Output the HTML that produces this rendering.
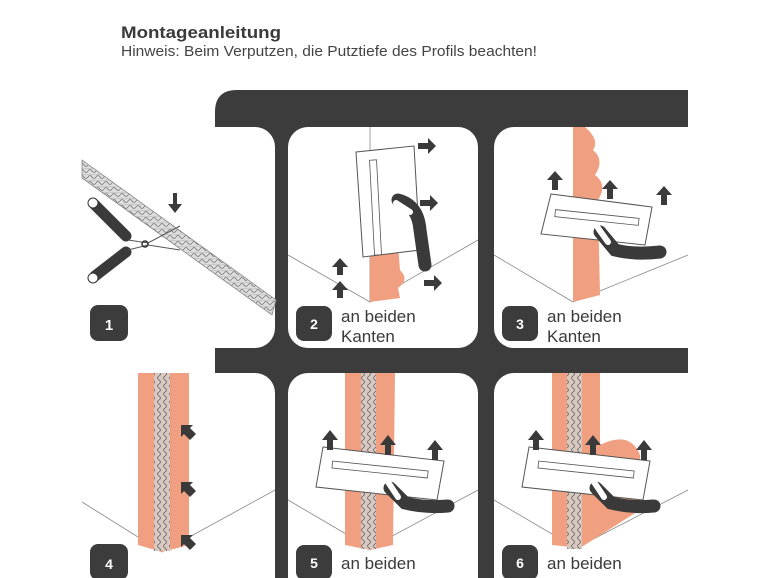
<!DOCTYPE html>
<html><head><meta charset="utf-8"><style>
html,body{margin:0;padding:0;background:#fff;width:770px;height:578px;overflow:hidden;}
svg{display:block;}
</style></head><body>
<svg width="770" height="578" viewBox="0 0 770 578" xmlns="http://www.w3.org/2000/svg" font-family="Liberation Sans, sans-serif">
<defs>
<pattern id="mesh" width="8" height="6" patternUnits="userSpaceOnUse">
<rect width="8" height="6" fill="#ddd"/>
<path d="M0 3 Q2 0 4 3 Q6 6 8 3" stroke="#777" fill="none" stroke-width="0.8"/>
<path d="M0 0 L8 0" stroke="#999" stroke-width="0.6"/>
</pattern>
<pattern id="meshv" width="6" height="8" patternUnits="userSpaceOnUse">
<rect width="6" height="8" fill="#d8c8c0"/>
<path d="M3 0 Q0 2 3 4 Q6 6 3 8" stroke="#666" fill="none" stroke-width="0.8"/>
</pattern>
</defs>
<text x="121" y="38" font-size="16.5" font-weight="bold" fill="#3a3a3a" textLength="160" lengthAdjust="spacingAndGlyphs">Montageanleitung</text>
<text x="121" y="56" font-size="14.5" fill="#444" textLength="416" lengthAdjust="spacingAndGlyphs">Hinweis: Beim Verputzen, die Putztiefe des Profils beachten!</text>

<!-- dark frame -->
<path d="M215 578 L215 112 Q215 90 237 90 L688 90 L688 578 Z" fill="#3c3c3c"/>
<rect x="150" y="127" width="125" height="221" rx="20" fill="#fff"/>
<rect x="288" y="127" width="190" height="221" rx="20" fill="#fff"/>
<rect x="494" y="127" width="230" height="221" rx="20" fill="#fff"/>
<rect x="150" y="373" width="125" height="240" rx="20" fill="#fff"/>
<rect x="288" y="373" width="190" height="240" rx="20" fill="#fff"/>
<rect x="494" y="373" width="230" height="240" rx="20" fill="#fff"/>
<rect x="150" y="127" width="65" height="460" fill="#fff"/>
<rect x="689" y="80" width="90" height="500" fill="#fff"/>

<!-- Panel 1 -->
<polygon points="82,160 82,178 272,315 276,300" fill="url(#mesh)" stroke="#888" stroke-width="0.8"/>
<path d="M95 205 L126 236 M95 276 L126 252" stroke="#3a3a3a" stroke-width="11" stroke-linecap="round"/>
<circle cx="93" cy="203" r="5" fill="#fff" stroke="#333" stroke-width="1"/>
<circle cx="93" cy="278" r="5" fill="#fff" stroke="#333" stroke-width="1"/>
<path d="M128 240 L148 243 L180 226 M128 250 L148 245 L180 250" stroke="#555" stroke-width="1" fill="none"/>
<circle cx="145" cy="244" r="3" fill="none" stroke="#333" stroke-width="1.5"/>
<path d="M175 193 L175 205" stroke="#3a3a3a" stroke-width="4"/>
<polygon points="168,204 182,204 175,213" fill="#3a3a3a"/>
<rect x="90" y="305" width="38" height="36" rx="8" fill="#3c3c3c"/>
<text x="109" y="330" font-size="15" font-weight="bold" fill="#fff" text-anchor="middle">1</text>

<!-- Panel 2 -->
<path d="M288 255 L370 302 L478 240 M370 127 L370 302" stroke="#888" stroke-width="0.8" fill="none"/>
<path d="M370 210 L395 205 L400 270 Q410 280 398 288 L400 298 L370 302 Z" fill="#f0a080"/>
<polygon points="356,152 414,146 420,250 363,257" fill="#fff" stroke="#555" stroke-width="1"/>
<rect x="372" y="160" width="7" height="95" fill="#fff" stroke="#555" stroke-width="0.8" transform="rotate(-3 375 207)"/>
<path d="M398 200 Q418 205 420 230 L425 265" stroke="#3a3a3a" stroke-width="13" stroke-linecap="round" fill="none"/>
<path d="M396 203 L410 212" stroke="#fff" stroke-width="6" stroke-linecap="round"/>
<g fill="#3a3a3a">
<path d="M418 143 L428 143 L428 138 L436 146 L428 154 L428 149 L418 149Z"/>
<path d="M420 200 L430 200 L430 195 L438 203 L430 211 L430 206 L420 206Z"/>
<path d="M424 280 L434 280 L434 275 L442 283 L434 291 L434 286 L424 286Z"/>
<path d="M337 275 L337 267 L332 267 L340 258 L348 267 L343 267 L343 275Z"/>
<path d="M337 298 L337 290 L332 290 L340 281 L348 290 L343 290 L343 298Z"/>
</g>
<rect x="296" y="306" width="36" height="35" rx="8" fill="#3c3c3c"/>
<text x="314" y="329" font-size="14" font-weight="bold" fill="#fff" text-anchor="middle">2</text>
<text x="341" y="322" font-size="17" fill="#3a3a3a">an beiden</text>
<text x="341" y="342" font-size="17" fill="#3a3a3a">Kanten</text>

<!-- Panel 3 -->
<path d="M494 255 L573 302 L688 255" stroke="#888" stroke-width="0.8" fill="none"/>
<path d="M573 127 L585 127 Q600 140 593 150 Q605 160 595 175 Q608 185 598 200 L600 295 L573 302 Z" fill="#f0a080"/>
<polygon points="551,194 652,207 645,245 541,234" fill="#fff" stroke="#555" stroke-width="1"/>
<rect x="555" y="214" width="84" height="7" fill="#fff" stroke="#555" stroke-width="0.8" transform="rotate(6 597 217)"/>
<path d="M600 232 L615 250 Q635 255 660 252" stroke="#3a3a3a" stroke-width="13" stroke-linecap="round" fill="none"/>
<path d="M598 228 L608 242" stroke="#fff" stroke-width="6" stroke-linecap="round"/>
<g fill="#3a3a3a">
<path d="M552 190 L552 180 L547 180 L555 171 L563 180 L558 180 L558 190Z"/>
<path d="M607 199 L607 189 L602 189 L610 180 L618 189 L613 189 L613 199Z"/>
<path d="M661 205 L661 195 L656 195 L664 186 L672 195 L667 195 L667 205Z"/>
</g>
<rect x="502" y="306" width="36" height="35" rx="8" fill="#3c3c3c"/>
<text x="520" y="329" font-size="14" font-weight="bold" fill="#fff" text-anchor="middle">3</text>
<text x="547" y="322" font-size="17" fill="#3a3a3a">an beiden</text>
<text x="547" y="342" font-size="17" fill="#3a3a3a">Kanten</text>

<!-- Panel 4 -->
<path d="M82 502 L162 552 L275 490" stroke="#888" stroke-width="0.8" fill="none"/>
<path d="M138 373 L189 373 L189 545 L162 552 L138 545 Z" fill="#f0a080"/>
<rect x="154" y="373" width="16" height="178" fill="url(#meshv)"/>
<g fill="#3a3a3a">
<path d="M190 440 L184 434 L181 437 L181 425 L193 425 L190 428 L196 434Z"/>
<path d="M190 497 L184 491 L181 494 L181 482 L193 482 L190 485 L196 491Z"/>
<path d="M190 550 L184 544 L181 547 L181 535 L193 535 L190 538 L196 544Z"/>
</g>
<rect x="90" y="544" width="38" height="36" rx="8" fill="#3c3c3c"/>
<text x="109" y="569" font-size="14" font-weight="bold" fill="#fff" text-anchor="middle">4</text>

<!-- Panel 5 -->
<path d="M288 500 L370 548 L478 490" stroke="#888" stroke-width="0.8" fill="none"/>
<path d="M345 373 L395 373 L393 545 L370 550 L345 545 Z" fill="#f0a080"/>
<rect x="361" y="373" width="15" height="176" fill="url(#meshv)"/>
<polygon points="323,447 444,461 437,500 316,487" fill="#fff" stroke="#555" stroke-width="1"/>
<rect x="332" y="466" width="96" height="7" fill="#fff" stroke="#555" stroke-width="0.8" transform="rotate(6 380 470)"/>
<path d="M390 488 L405 503 Q425 508 448 506" stroke="#3a3a3a" stroke-width="13" stroke-linecap="round" fill="none"/>
<path d="M388 482 L398 497" stroke="#fff" stroke-width="6" stroke-linecap="round"/>
<g fill="#3a3a3a">
<path d="M327 450 L327 440 L322 440 L330 430 L338 440 L333 440 L333 450Z"/>
<path d="M385 455 L385 445 L380 445 L388 435 L396 445 L391 445 L391 455Z"/>
<path d="M432 460 L432 450 L427 450 L435 440 L443 450 L438 450 L438 460Z"/>
</g>
<rect x="296" y="545" width="36" height="35" rx="8" fill="#3c3c3c"/>
<text x="314" y="568" font-size="14" font-weight="bold" fill="#fff" text-anchor="middle">5</text>
<text x="341" y="569" font-size="17" fill="#3a3a3a">an beiden</text>

<!-- Panel 6 -->
<path d="M494 500 L576 548 L688 490" stroke="#888" stroke-width="0.8" fill="none"/>
<path d="M552 373 L600 373 L600 445 Q630 430 640 455 L640 510 L580 548 L552 545 Z" fill="#f0a080"/>
<rect x="567" y="373" width="15" height="176" fill="url(#meshv)"/>
<polygon points="529,447 650,461 643,500 522,487" fill="#fff" stroke="#555" stroke-width="1"/>
<rect x="538" y="466" width="96" height="7" fill="#fff" stroke="#555" stroke-width="0.8" transform="rotate(6 586 470)"/>
<path d="M596 488 L611 503 Q631 508 654 506" stroke="#3a3a3a" stroke-width="13" stroke-linecap="round" fill="none"/>
<path d="M594 482 L604 497" stroke="#fff" stroke-width="6" stroke-linecap="round"/>
<g fill="#3a3a3a">
<path d="M533 450 L533 440 L528 440 L536 430 L544 440 L539 440 L539 450Z"/>
<path d="M590 455 L590 445 L585 445 L593 435 L601 445 L596 445 L596 455Z"/>
<path d="M641 460 L641 450 L636 450 L644 440 L652 450 L647 450 L647 460Z"/>
</g>
<rect x="502" y="545" width="36" height="35" rx="8" fill="#3c3c3c"/>
<text x="520" y="568" font-size="14" font-weight="bold" fill="#fff" text-anchor="middle">6</text>
<text x="547" y="569" font-size="17" fill="#3a3a3a">an beiden</text>
</svg>
</body></html>
